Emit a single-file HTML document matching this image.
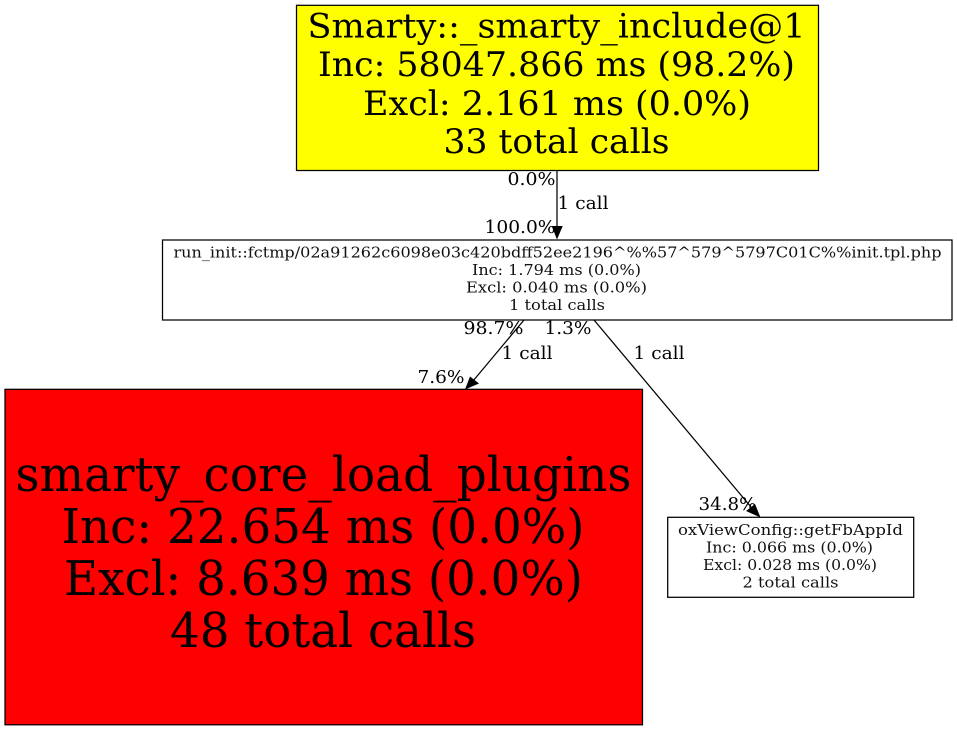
<!DOCTYPE html>
<html>
<head>
<meta charset="utf-8">
<style>
html,body{margin:0;padding:0;background:#fff}
svg{display:block}
text{font-family:"DejaVu Serif",serif;fill:#000;white-space:pre}
.big{font-size:33.5px;text-anchor:middle}
.huge{font-size:47.5px;text-anchor:middle}
.small{font-size:15.2px;text-anchor:middle;fill:#111}
.edge{font-size:18px}
rect,line{stroke:#000;stroke-width:1.25}
</style>
</head>
<body>
<svg width="957" height="731" viewBox="0 0 957 731" xmlns="http://www.w3.org/2000/svg">
<rect width="957" height="731" fill="#fff" style="stroke:none"/>
<rect x="296.5" y="5.3" width="522" height="165.2" fill="#ff0"/>
<text class="big" x="556.5" y="37.5" textLength="498" lengthAdjust="spacingAndGlyphs">Smarty::_smarty_include@1</text>
<text class="big" x="556.5" y="76" textLength="477" lengthAdjust="spacingAndGlyphs">Inc: 58047.866 ms (98.2%)</text>
<text class="big" x="557" y="115" textLength="388" lengthAdjust="spacingAndGlyphs">Excl: 2.161 ms (0.0%)</text>
<text class="big" x="556.5" y="153" textLength="226" lengthAdjust="spacingAndGlyphs">33 total calls</text>

<rect x="162.5" y="240" width="789.5" height="80" fill="#fff"/>
<text class="small" x="557.5" y="257.5" textLength="768" lengthAdjust="spacingAndGlyphs">run_init::fctmp/02a91262c6098e03c420bdff52ee2196^%%57^579^5797C01C%%init.tpl.php</text>
<text class="small" x="556.5" y="275" textLength="169" lengthAdjust="spacingAndGlyphs">Inc: 1.794 ms (0.0%)</text>
<text class="small" x="556.5" y="292.5" textLength="181" lengthAdjust="spacingAndGlyphs">Excl: 0.040 ms (0.0%)</text>
<text class="small" x="557" y="310" textLength="96" lengthAdjust="spacingAndGlyphs">1 total calls</text>

<rect x="5" y="389.3" width="637.5" height="335.5" fill="#f00"/>
<text class="huge" x="323.5" y="490.8" textLength="616" lengthAdjust="spacingAndGlyphs">smarty_core_load_plugins</text>
<text class="huge" x="323" y="543" textLength="523" lengthAdjust="spacingAndGlyphs">Inc: 22.654 ms (0.0%)</text>
<text class="huge" x="323.5" y="595" textLength="519" lengthAdjust="spacingAndGlyphs">Excl: 8.639 ms (0.0%)</text>
<text class="huge" x="323" y="647" textLength="306" lengthAdjust="spacingAndGlyphs">48 total calls</text>

<rect x="667.7" y="517.3" width="246" height="80" fill="#fff"/>
<text class="small" x="790.5" y="535" textLength="225" lengthAdjust="spacingAndGlyphs">oxViewConfig::getFbAppId</text>
<text class="small" x="789.5" y="552.5" textLength="167" lengthAdjust="spacingAndGlyphs">Inc: 0.066 ms (0.0%)</text>
<text class="small" x="790" y="570" textLength="174" lengthAdjust="spacingAndGlyphs">Excl: 0.028 ms (0.0%)</text>
<text class="small" x="790.5" y="587.5" textLength="96" lengthAdjust="spacingAndGlyphs">2 total calls</text>

<line x1="557" y1="171" x2="557" y2="228"/>
<polygon points="551.7,226 562.7,226 557,239.5" fill="#000"/>
<line x1="524" y1="320" x2="473" y2="381"/>
<polygon points="470,376.5 479,383.5 465,389.5" fill="#000"/>
<line x1="594" y1="320" x2="751" y2="507"/>
<polygon points="746,511 755,504 760.5,517.5" fill="#000"/>

<text class="edge" x="507.5" y="185" textLength="48" lengthAdjust="spacingAndGlyphs">0.0%</text>
<text class="edge" x="557.5" y="209" textLength="51" lengthAdjust="spacingAndGlyphs">1 call</text>
<text class="edge" x="484.5" y="233" textLength="71" lengthAdjust="spacingAndGlyphs">100.0%</text>
<text class="edge" x="463.5" y="334" textLength="60" lengthAdjust="spacingAndGlyphs">98.7%</text>
<text class="edge" x="544.5" y="334" textLength="47" lengthAdjust="spacingAndGlyphs">1.3%</text>
<text class="edge" x="501.5" y="359" textLength="51" lengthAdjust="spacingAndGlyphs">1 call</text>
<text class="edge" x="633.5" y="359" textLength="51" lengthAdjust="spacingAndGlyphs">1 call</text>
<text class="edge" x="417.5" y="383" textLength="47" lengthAdjust="spacingAndGlyphs">7.6%</text>
<text class="edge" x="698.5" y="510" textLength="58" lengthAdjust="spacingAndGlyphs">34.8%</text>
</svg>
</body>
</html>
